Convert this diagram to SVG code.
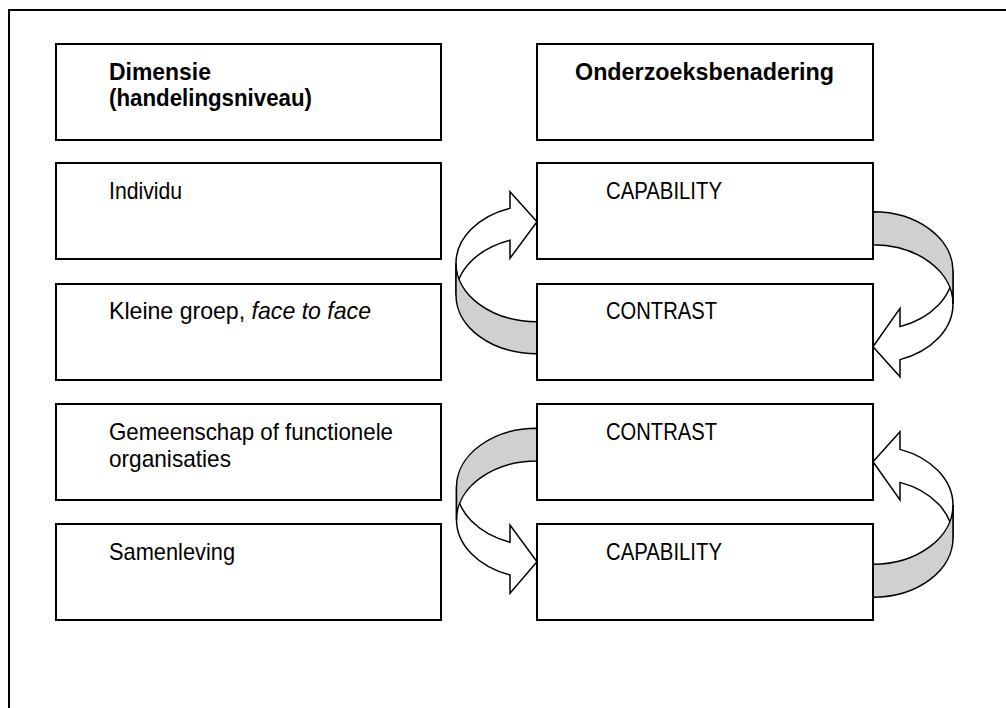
<svg xmlns="http://www.w3.org/2000/svg" width="1006" height="708" viewBox="0 0 1006 708">
<style>
.box{fill:#fff;stroke:#000;stroke-width:2}
.t{font-family:"Liberation Sans",Arial,sans-serif;font-size:24px;fill:#000}
.b{font-weight:bold}
.i{font-style:italic}
.front{fill:#fff;stroke:#000;stroke-width:1.5;stroke-linejoin:miter}
.back{fill:#d0d0d0;stroke:#000;stroke-width:1.5}
</style>
<rect width="1006" height="708" fill="#fff"/>
<path d="M9 708 V10 H1006" fill="none" stroke="#000" stroke-width="2"/>
<g id="connectors">
  <g id="arrow1">
    <path class="front" d="M456 295.3 A81 58.4 0 0 1 510 240.2 L510 258.3 L537 221.7 L510 191.7 L510 208.2 A81 58.4 0 0 0 456 263.3 Z"/>
    <path class="back" d="M456 263.3 A81 58.4 0 0 0 537 321.7 L537 353.7 A81 58.4 0 0 1 456 295.3 Z"/>
  </g>
  <g id="arrow2">
    <path class="front" d="M953 270.9 A80 59.2 0 0 1 900 326.6 L900 308.3 L873 346.7 L900 376.7 L900 359.6 A80 59.2 0 0 0 953 303.9 Z"/>
    <path class="back" d="M873 211.7 A80 59.2 0 0 1 953 270.9 L953 303.9 A80 59.2 0 0 0 873 244.7 Z"/>
  </g>
  <g id="arrow3">
    <path class="front" d="M456.5 487 A80.5 58.7 0 0 0 510 542.3 L510 525 L537 561.7 L510 593.3 L510 575 A80.5 58.7 0 0 1 456.5 519.7 Z"/>
    <path class="back" d="M537 428.3 A80.5 58.7 0 0 0 456.5 487 L456.5 519.7 A80.5 58.7 0 0 1 537 461 Z"/>
  </g>
  <g id="arrow4">
    <path class="front" d="M953 538.1 A80 59.2 0 0 0 900 482.4 L900 500 L873 461.7 L900 431.7 L900 449.4 A80 59.2 0 0 1 953 505.1 Z"/>
    <path class="back" d="M953 505.1 A80 59.2 0 0 1 873 564.3 L873 597.3 A80 59.2 0 0 0 953 538.1 Z"/>
  </g>
</g>
<g id="hdr-dimensie">
  <rect class="box" x="56" y="44" width="385" height="96"/>
  <text class="t b" x="109" y="80" textLength="102" lengthAdjust="spacingAndGlyphs">Dimensie</text>
  <text class="t b" x="109" y="106" textLength="203" lengthAdjust="spacingAndGlyphs">(handelingsniveau)</text>
</g>
<g id="hdr-onderzoek">
  <rect class="box" x="537" y="44" width="336" height="96"/>
  <text class="t b" x="575" y="80" textLength="259" lengthAdjust="spacingAndGlyphs">Onderzoeksbenadering</text>
</g>
<g id="individu">
  <rect class="box" x="56" y="163" width="385" height="96"/>
  <text class="t" x="109" y="199" textLength="73" lengthAdjust="spacingAndGlyphs">Individu</text>
</g>
<g id="kleine-groep">
  <rect class="box" x="56" y="284" width="385" height="96"/>
  <text class="t" x="109" y="319" textLength="262" lengthAdjust="spacingAndGlyphs">Kleine groep, <tspan class="i">face to face</tspan></text>
</g>
<g id="gemeenschap">
  <rect class="box" x="56" y="404" width="385" height="96"/>
  <text class="t" x="109" y="440" textLength="284" lengthAdjust="spacingAndGlyphs">Gemeenschap of functionele</text>
  <text class="t" x="109" y="467" textLength="122" lengthAdjust="spacingAndGlyphs">organisaties</text>
</g>
<g id="samenleving">
  <rect class="box" x="56" y="524" width="385" height="96"/>
  <text class="t" x="109" y="560" textLength="126" lengthAdjust="spacingAndGlyphs">Samenleving</text>
</g>
<g id="capability1">
  <rect class="box" x="537" y="163" width="336" height="96"/>
  <text class="t" x="606" y="199" textLength="116" lengthAdjust="spacingAndGlyphs">CAPABILITY</text>
</g>
<g id="contrast1">
  <rect class="box" x="537" y="284" width="336" height="96"/>
  <text class="t" x="606" y="319" textLength="111" lengthAdjust="spacingAndGlyphs">CONTRAST</text>
</g>
<g id="contrast2">
  <rect class="box" x="537" y="404" width="336" height="96"/>
  <text class="t" x="606" y="440" textLength="111" lengthAdjust="spacingAndGlyphs">CONTRAST</text>
</g>
<g id="capability2">
  <rect class="box" x="537" y="524" width="336" height="96"/>
  <text class="t" x="606" y="560" textLength="116" lengthAdjust="spacingAndGlyphs">CAPABILITY</text>
</g>
</svg>
